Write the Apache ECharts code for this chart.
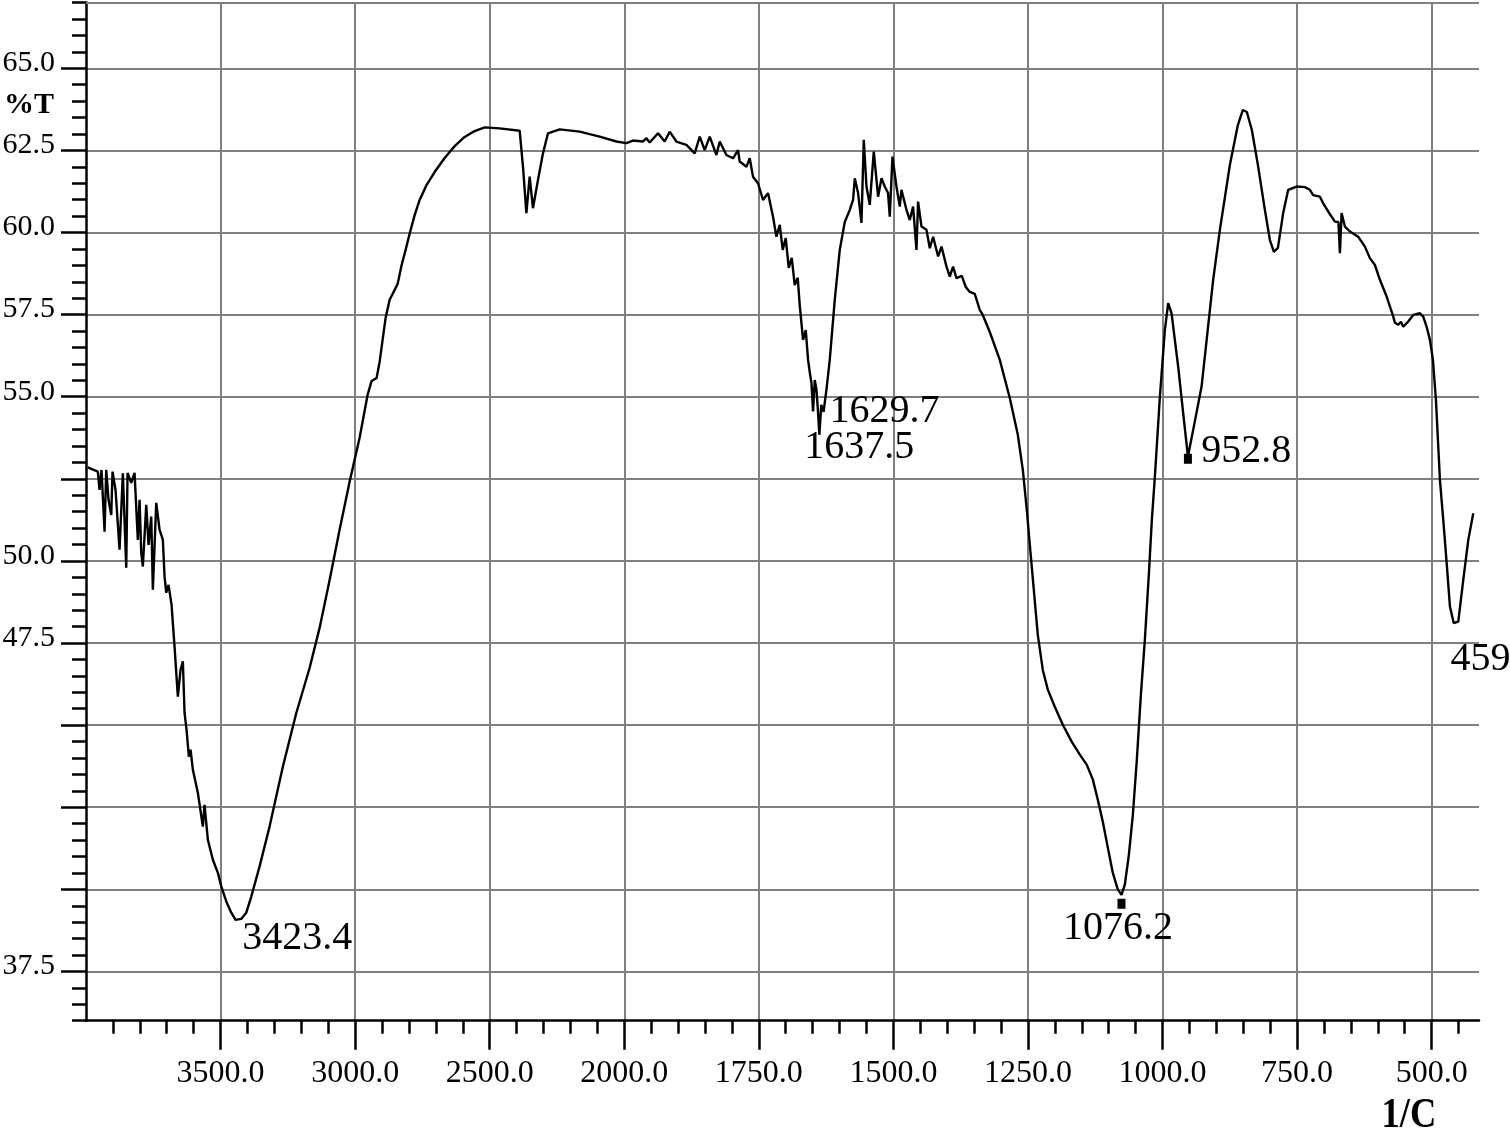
<!DOCTYPE html>
<html>
<head>
<meta charset="utf-8">
<title>IR spectrum</title>
<script src="https://cdn.jsdelivr.net/npm/echarts@6/dist/echarts.min.js"></script>
<style>
  html, body { margin: 0; padding: 0; background: #fff; }
  #myChart { width: 1510px; height: 1144px; }
</style>
</head>
<body>
<div id="myChart"></div>
<script>
// spectrum: wavenumber (1/cm) and %T
var wavenumbers = [
  3993.2, 3956.0, 3949.7, 3942.3, 3931.1, 3924.8, 3916.3, 3906.2, 3901.4, 3890.2,
  3875.4, 3863.1, 3850.5, 3845.6, 3831.9, 3819.6, 3807.4, 3801.0, 3794.7, 3788.8,
  3776.1, 3767.6, 3757.6, 3751.6, 3739.0, 3726.7, 3714.4, 3708.1, 3701.8, 3693.3,
  3682.1, 3671.0, 3658.7, 3648.7, 3640.1, 3633.8, 3626.4, 3617.8, 3611.5, 3602.9,
  3584.4, 3565.8, 3559.5, 3547.2, 3528.6, 3510.0, 3497.4, 3478.8, 3460.2, 3444.2,
  3423.4, 3404.5, 3385.9, 3355.0, 3317.9, 3268.4, 3218.6, 3169.2, 3132.0, 3094.8,
  3057.7, 3020.5, 2983.3, 2953.6, 2938.7, 2920.2, 2909.0, 2897.9, 2886.7, 2871.8,
  2853.2, 2842.1, 2827.2, 2812.4, 2797.5, 2778.9, 2760.3, 2734.3, 2704.6, 2667.4,
  2630.2, 2593.1, 2555.9, 2518.7, 2463.0, 2388.6, 2376.3, 2363.7, 2351.5, 2339.2,
  2320.6, 2302.0, 2283.4, 2240.0, 2165.6, 2091.3, 2029.2, 1996.0, 1983.8, 1965.7,
  1958.9, 1952.7, 1937.3, 1924.9, 1915.6, 1903.1, 1884.5, 1869.1, 1859.8, 1850.5,
  1841.2, 1828.8, 1822.6, 1810.2, 1797.9, 1788.6, 1785.5, 1773.0, 1766.9, 1760.8,
  1751.5, 1742.2, 1732.9, 1723.6, 1717.3, 1711.1, 1705.6, 1700.0, 1694.4, 1688.8,
  1683.3, 1677.7, 1674.0, 1667.8, 1662.8, 1658.5, 1655.4, 1652.2, 1649.2, 1646.1,
  1642.9, 1640.5, 1637.5, 1634.0, 1629.7, 1624.4, 1618.2, 1615.1, 1608.9, 1599.6,
  1590.3, 1581.0, 1574.9, 1571.7, 1565.6, 1559.3, 1555.0, 1550.0, 1543.9, 1536.4,
  1528.4, 1522.1, 1516.0, 1509.9, 1506.7, 1501.7, 1494.3, 1488.1, 1485.0, 1475.7,
  1469.5, 1463.4, 1457.1, 1454.1, 1447.8, 1438.5, 1432.4, 1426.2, 1416.9, 1410.6,
  1401.3, 1395.2, 1389.1, 1382.8, 1372.9, 1365.5, 1358.0, 1348.8, 1339.4, 1333.9,
  1320.9, 1302.3, 1283.7, 1268.8, 1259.5, 1252.1, 1246.5, 1239.1, 1231.7, 1222.4,
  1213.1, 1200.1, 1185.2, 1168.5, 1153.6, 1140.6, 1129.4, 1120.2, 1110.9, 1101.6,
  1092.3, 1083.0, 1076.2, 1070.0, 1062.5, 1055.1, 1047.7, 1040.2, 1032.8, 1025.4,
  1019.8, 1014.2, 1004.9, 995.6, 989.5, 983.2, 970.9, 961.6, 952.8, 943.0,
  927.4, 905.9, 893.4, 874.8, 860.0, 850.7, 843.3, 834.0, 822.8, 809.8,
  800.5, 793.1, 785.6, 775.8, 766.5, 750.9, 735.5, 726.2, 720.1, 707.6,
  701.5, 692.2, 679.7, 673.2, 670.4, 667.3, 661.1, 651.8, 636.4, 623.9,
  614.7, 605.4, 596.1, 583.6, 574.3, 571.3, 568.2, 562.1, 557.0, 552.8,
  543.5, 534.2, 521.7, 515.6, 509.3, 503.2, 497.6, 492.0, 484.6, 478.4,
  472.1, 466.0, 459.0, 450.5, 441.2, 431.9, 422.6
]
var transmittance = [
  52.85, 52.72, 52.16, 52.77, 50.89, 52.77, 51.86, 51.40, 52.72, 52.16,
  50.34, 52.67, 49.79, 52.68, 52.38, 52.68, 50.64, 51.86, 50.25, 49.83,
  51.71, 50.49, 51.35, 49.12, 51.77, 50.95, 50.64, 49.52, 49.03, 49.27,
  48.66, 47.39, 45.87, 46.68, 46.94, 45.37, 44.86, 44.04, 44.25, 43.64,
  42.94, 41.91, 42.57, 41.51, 40.90, 40.50, 40.09, 39.63, 39.29, 39.07,
  39.10, 39.29, 39.78, 40.70, 41.91, 43.74, 45.37, 46.74, 47.96, 49.42,
  50.95, 52.41, 53.75, 55.06, 55.48, 55.57, 56.06, 56.73, 57.40, 57.95,
  58.25, 58.43, 59.01, 59.47, 59.96, 60.53, 60.99, 61.45, 61.84, 62.27,
  62.63, 62.91, 63.09, 63.20, 63.17, 63.10, 62.00, 60.59, 61.70, 60.74,
  61.60, 62.41, 63.02, 63.14, 63.07, 62.92, 62.77, 62.72, 62.80, 62.77,
  62.87, 62.74, 63.02, 62.77, 63.07, 62.77, 62.67, 62.41, 62.92, 62.51,
  62.92, 62.36, 62.77, 62.36, 62.26, 62.51, 62.16, 62.00, 62.26, 61.70,
  61.50, 60.99, 61.20, 60.48, 59.87, 60.23, 59.47, 59.83, 58.92, 59.23,
  58.40, 58.62, 57.79, 56.73, 57.03, 56.12, 55.75, 55.42, 54.55, 55.51,
  55.21, 54.66, 53.84, 54.75, 54.54, 55.21, 56.12, 56.73, 57.95, 59.47,
  60.32, 60.69, 60.99, 61.65, 61.20, 60.29, 62.82, 61.40, 60.84, 62.46,
  61.09, 61.65, 61.40, 61.20, 60.48, 62.31, 61.40, 60.79, 61.30, 60.69,
  60.38, 60.79, 59.47, 60.94, 60.18, 60.08, 59.52, 59.87, 59.27, 59.57,
  58.96, 58.66, 58.96, 58.61, 58.68, 58.34, 58.19, 58.13, 57.64, 57.49,
  56.97, 56.12, 54.96, 53.84, 52.77, 51.55, 50.49, 49.12, 47.75, 46.68,
  46.08, 45.56, 45.01, 44.49, 44.10, 43.79, 43.34, 42.73, 42.06, 41.27,
  40.50, 39.99, 39.83, 40.14, 41.05, 42.27, 43.94, 45.92, 47.60, 49.58,
  51.25, 52.56, 54.99, 57.03, 57.85, 57.54, 55.92, 54.50, 53.18, 53.99,
  55.31, 58.56, 60.08, 62.06, 63.27, 63.73, 63.67, 63.12, 62.06, 60.69,
  59.77, 59.41, 59.53, 60.59, 61.30, 61.40, 61.38, 61.30, 61.14, 61.09,
  60.89, 60.64, 60.33, 60.32, 59.37, 60.59, 60.18, 60.03, 59.87, 59.57,
  59.22, 59.01, 58.56, 58.05, 57.59, 57.44, 57.25, 57.19, 57.28, 57.13,
  57.29, 57.49, 57.54, 57.44, 57.13, 56.73, 56.12, 54.90, 52.47, 51.25,
  49.94, 48.61, 48.11, 48.15, 49.42, 50.64, 51.45
]

// picked peaks
var peakWn = [3423.4, 1637.5, 1629.7, 1076.2, 952.8, 459]
var peakT = [39.10, 53.84, 54.54, 39.83, 53.18, 48.11]
var peakText = ['3423.4', '1637.5', '1629.7', '1076.2', '952.8', '459']
// little square markers under two of the peaks
var markerWn = [1076.2, 952.8]
var markerT = [39.56, 53.11]

// axis ticks
var xTickWn = [3500, 3000, 2500, 2000, 1750, 1500, 1250, 1000, 750, 500]
var yTickLabels = [65, 62.5, 60, 57.5, 55, 50, 47.5, 37.5]

// label placement (px offset from the peak point), styling only
var labelDx = [1, -15, 6, -58.5, 13.4, -3.3]
var labelDy = [19.5, 13, 0, 34, -5, 36.7]

var serif = "'Liberation Serif', 'Times New Roman', serif"
var gray = '#7f7f7f'

// the x scale is compressed by 2 above 2000 1/cm
function toAxis (w) {
  return w > 2000 ? 2000 + (w - 2000) / 2 : w
}

var curve = wavenumbers.map(function (w, i) { return [toAxis(w), transmittance[i]] })
var markers = markerWn.map(function (w, i) { return [toAxis(w), markerT[i]] })

var xMajor = xTickWn.map(toAxis)
var xMinor = []
for (var u = 450; u <= 2950; u += 50) {
  if (u % 250 !== 0) xMinor.push(u)
}
var yMajor = []
var yMinor = []
for (var k = 72; k <= 134; k++) { // half-units: 36.0 .. 67.0
  var v = k / 2
  if (k % 5 === 0 && v >= 37.5 && v <= 65) yMajor.push(v)
  else yMinor.push(v)
}

var myChart = echarts.init(document.getElementById('myChart'))

function axisBase (extra) {
  var a = {
    type: 'value',
    axisLabel: { show: false },
    splitLine: { show: false }
  }
  for (var key in extra) a[key] = extra[key]
  return a
}

var option = {
  animation: false,
  backgroundColor: '#fff',
  grid: { left: 86, right: 31, top: 2.6, bottom: 123.3 },
  xAxis: [
    axisBase({
      inverse: true, min: 412, max: 3000, position: 'bottom',
      axisLine: { show: true, onZero: false, lineStyle: { color: '#000', width: 2.5 } },
      axisTick: { show: true, inside: false, length: 29, customValues: xMajor, lineStyle: { color: '#000', width: 2.5 } },
      splitLine: { show: true, lineStyle: { color: gray, width: 2 } }
    }),
    axisBase({
      inverse: true, min: 412, max: 3000, position: 'bottom',
      axisLine: { show: false, onZero: false },
      axisTick: { show: true, inside: false, length: 13, customValues: xMinor, lineStyle: { color: '#000', width: 2.5 } }
    })
  ],
  yAxis: [
    axisBase({
      min: 36, max: 67, position: 'left',
      axisLine: { show: true, onZero: false, lineStyle: { color: '#000', width: 2.5 } },
      axisTick: { show: true, inside: false, length: 25, customValues: yMajor, lineStyle: { color: '#000', width: 2.5 } },
      splitLine: { show: true, lineStyle: { color: gray, width: 2 } }
    }),
    axisBase({
      min: 36, max: 67, position: 'left',
      axisLine: { show: false, onZero: false },
      axisTick: { show: true, inside: false, length: 14, customValues: yMinor, lineStyle: { color: '#000', width: 2.5 } }
    })
  ],
  series: [
    {
      type: 'line',
      xAxisIndex: 0,
      yAxisIndex: 0,
      data: curve,
      symbol: 'none',
      showSymbol: false,
      lineStyle: { color: '#000', width: 2.4 },
      emphasis: { disabled: true },
      z: 5,
      markLine: {
        silent: true,
        symbol: 'none',
        label: { show: false },
        lineStyle: { color: gray, width: 2, type: 'solid' },
        data: [{ yAxis: 67 }]
      }
    },
    {
      type: 'scatter',
      xAxisIndex: 0,
      yAxisIndex: 0,
      data: markers,
      symbol: 'rect',
      symbolSize: [8, 10],
      itemStyle: { color: '#000', opacity: 1 },
      emphasis: { disabled: true },
      z: 6
    }
  ]
}
myChart.setOption(option)

// all texts as graphic texts, placed from the axes' own pixel mapping
function label (text, x, y, font, sx, align) {
  return {
    type: 'text',
    x: x,
    y: y,
    scaleX: sx,
    z: 100,
    silent: true,
    style: {
      text: text,
      font: font,
      fill: '#000',
      align: align,
      textAlign: align,
      verticalAlign: 'middle',
      textVerticalAlign: 'middle'
    }
  }
}

var texts = []
xTickWn.forEach(function (w) {
  var px = myChart.convertToPixel({ xAxisIndex: 0 }, toAxis(w))
  texts.push(label(w.toFixed(1), px, 1074, '32px ' + serif, 1, 'center'))
})
yTickLabels.forEach(function (v) {
  var py = myChart.convertToPixel({ yAxisIndex: 0 }, v)
  texts.push(label(v.toFixed(1), 55, py - 5, '30px ' + serif, 1, 'right'))
})
peakWn.forEach(function (w, i) {
  var p = myChart.convertToPixel({ xAxisIndex: 0, yAxisIndex: 0 }, [toAxis(w), peakT[i]])
  texts.push(label(peakText[i], p[0] + labelDx[i], p[1] + labelDy[i], '40px ' + serif, 1, 'left'))
})
texts.push(label('%T', 4, 105.5, 'bold 30px ' + serif, 1, 'left'))
texts.push(label('1/C', 1409, 1116.5, 'bold 42px ' + serif, 0.87, 'center'))

myChart.setOption({ graphic: texts })

window.addEventListener('resize', function () {
  myChart.resize()
})
</script>
</body>
</html>
